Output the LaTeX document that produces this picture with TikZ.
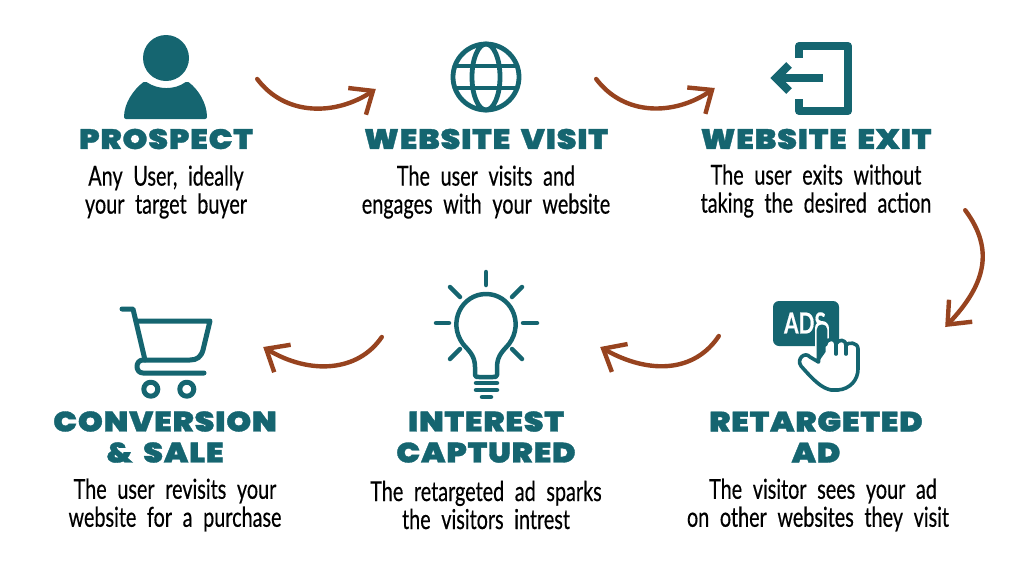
\documentclass[tikz,border=0pt]{standalone}
\usepackage{fontspec}
\usetikzlibrary{arrows.meta,positioning}
\newfontfamily\headfont[FakeStretch=1.13,FakeBold=1.2,LetterSpace=3,WordSpace=1.7]{Poppins Black}
\newfontfamily\bodyfont[FakeStretch=0.72,WordSpace=2.1,FakeBold=0.4]{Lato}
\definecolor{tealicon}{HTML}{156570}
\definecolor{rust}{HTML}{97431F}
\tikzset{
    heading/.style={
           text=tealicon,
           font=\headfont\fontsize{28}{31}\selectfont,
           align=center,
           inner sep=0pt,
           },
    blurb/.style={
           text=black,
           font=\bodyfont\fontsize{27.5}{28}\selectfont,
           align=center,
           inner sep=0pt,
           },
    iconbox/.style={
           rectangle,
           draw=none,
           inner sep=0pt,
           },
    icon/.style={
           draw=tealicon,
           line cap=round,
           line join=round,
           },
    flow/.style={
           draw=rust,
           line width=4.4pt,
           line cap=round,
           -{Straight Barb[length=19pt,width=32pt,line width=4.4pt]},
           },
}
\begin{document}
\begin{tikzpicture}[x=1pt,y=-1pt]
       \useasboundingbox (0,0) rectangle (1024,576);

       % headings
       \node[heading] (PROSPECT) at (166,139) {PROSPECT};
       \node[heading] (VISIT) at (486,139) {WEBSITE VISIT};
       \node[heading] (EXIT) at (816,139) {WEBSITE EXIT};
       \node[heading] (CONVERSION) at (165,437) {CONVERSION\\\& SALE};
       \node[heading] (INTEREST) at (486,437) {INTEREST\\CAPTURED};
       \node[heading] (RETARGETED) at (816,437) {RETARGETED\\AD};

       % text below
       \node[blurb] (PROSPECTTEXT) at (166,192) {Any User, ideally\\your target buyer};
       \node[blurb] (VISITTEXT) at (486,192) {The user visits and\\engages with your website};
       \node[blurb] (EXITTEXT) at (816,191) {The user exits without\\taking the desired action};
       \node[blurb] (CONVERSIONTEXT) at (175,505) {The user revisits your\\website for a purchase};
       \node[blurb] (INTERESTTEXT) at (486,505) {The retargeted ad sparks\\the visitors intrest};
       \node[blurb] (RETARGETEDTEXT) at (818,505) {\hspace{10pt}The visitor sees your ad\\on other websites they visit};

       % icon boxes
       \node[iconbox,minimum width=84pt,minimum height=84pt] (PERSONICON) at (166,78) {};
       \node[iconbox,minimum width=72pt,minimum height=72pt] (GLOBEICON) at (486,77) {};
       \node[iconbox,minimum width=82pt,minimum height=74pt] (EXITICON) at (811,79) {};
       \node[iconbox,minimum width=88pt,minimum height=92pt] (ADICON) at (816,345) {};
       \node[iconbox,minimum width=104pt,minimum height=130pt] (BULBICON) at (486,336) {};
       \node[iconbox,minimum width=92pt,minimum height=92pt] (CARTICON) at (166,352) {};

       % person
       \fill[tealicon] (PERSONICON.center) ++(0,-20) circle (23);
       \fill[tealicon,rounded corners=2pt] (124,119) .. controls (124,103) and (134,89) .. (145,81)
              .. controls (158,90) and (175,90) .. (187,81)
              .. controls (198,89) and (207,103) .. (207,119) -- cycle;

       % globe
       \begin{scope}[icon,line width=4.8pt]
       \draw (GLOBEICON.center) circle (33);
       \draw (GLOBEICON.center) ellipse (14 and 33);
       \draw (455,66) -- (517,66);
       \draw (455,88) -- (517,88);
       \end{scope}

       % exit door
       \draw[icon,line width=8pt,line cap=butt,line join=round] (799,58) -- (799,46) -- (848,46) -- (848,111) -- (799,111) -- (799,99);
       \draw[icon,line width=8pt,line cap=butt] (823,78) -- (777,78);
       \draw[icon,line width=8pt,line cap=butt,line join=miter] (789,65) -- (776,78) -- (789,91);

       % ad button with hand
       \fill[tealicon,rounded corners=6pt] (773,301) rectangle (839,346);
       \node[text=white,inner sep=0pt,font=\bodyfont\bfseries\fontsize{29}{29}\selectfont] (ADS) at (805,323) {ADS};
       \draw[white,line width=14pt,line cap=round] (822,328) -- (822,350);
       \draw[icon,fill=white,line width=3.6pt] (818.5,362) -- (818.5,330) .. controls (818.5,325) and (825.5,325) .. (825.5,330)
              -- (825.5,345)
              .. controls (827,337) and (836,338) .. (836,344)
              .. controls (838,339) and (846,339) .. (846,345)
              .. controls (848,342) and (858,342) .. (858,349) -- (858,369)
              .. controls (858,380) and (850,389) .. (838,390) -- (831,390)
              .. controls (822,388) and (815,382) .. (801,366)
              .. controls (796,359) and (805,351) .. (810,357) -- cycle;
       \fill[tealicon] (818.5,330) .. controls (818.5,325) and (825.5,325) .. (825.5,330) -- (825.5,352) -- (818.5,362) -- cycle;
       \draw[icon,line width=3.6pt] (836,344) -- (836,354);
       \draw[icon,line width=3.6pt] (846,345) -- (846,354);

       % bulb
       \begin{scope}[icon,line width=4.5pt]
       \draw (475,375) -- (475,367) .. controls (475,355) and (468,350) .. (463,344)
              .. controls (447,322) and (462,294) .. (486,294)
              .. controls (510,294) and (525,322) .. (509,344)
              .. controls (504,350) and (497,355) .. (497,367) -- (497,375)
              .. controls (497,377) and (495,377) .. (493,377) -- (479,377)
              .. controls (477,377) and (475,377) .. (475,375);
       \draw (476,383) -- (497,383);
       \draw (476,390) -- (497,390);
       \draw (482,397) -- (491,397);
       \draw (486,272) -- (486,285);
       \draw (436,323) -- (449,323);
       \draw (523,323) -- (537,323);
       \draw (450,287) -- (460,297);
       \draw (522,287) -- (512,297);
       \draw (450,359) -- (460,349);
       \draw (522,359) -- (512,349);
       \end{scope}

       % cart
       \begin{scope}[icon,line width=5pt]
       \draw (122,309) -- (133,309) -- (145,360);
       \draw (136,321) -- (210,321) -- (203,350) .. controls (201,357) and (197,360) .. (190,360) -- (143,360)
              .. controls (135,360) and (135,373) .. (143,373) -- (204,373);
       \draw (CARTICON.south west) ++(31,-9) circle (7);
       \draw (CARTICON.south west) ++(67,-9) circle (7);
       \end{scope}

       % connectors
       \draw[flow] ([shift={(49,1)}]PERSONICON.east) .. controls (285,116) and (335,116) .. ([shift={(-74,12)}]GLOBEICON.west);
       \draw[flow] ([shift={(74,2)}]GLOBEICON.east) .. controls (624,116) and (674,116) .. ([shift={(-55,9)}]EXITICON.west);
       \draw[flow] ([shift={(113,94)}]EXITICON.south east) .. controls (995,250) and (985,285) .. ([shift={(85,-18)}]ADICON.east);
       \draw[flow] ([shift={(-53,-9)}]ADICON.west) .. controls (695,372) and (650,375) .. ([shift={(62,11)}]BULBICON.east);
       \draw[flow] ([shift={(-52,1)}]BULBICON.west) .. controls (358,372) and (310,375) .. ([shift={(51,-5)}]CARTICON.east);

\end{tikzpicture}
\end{document}
